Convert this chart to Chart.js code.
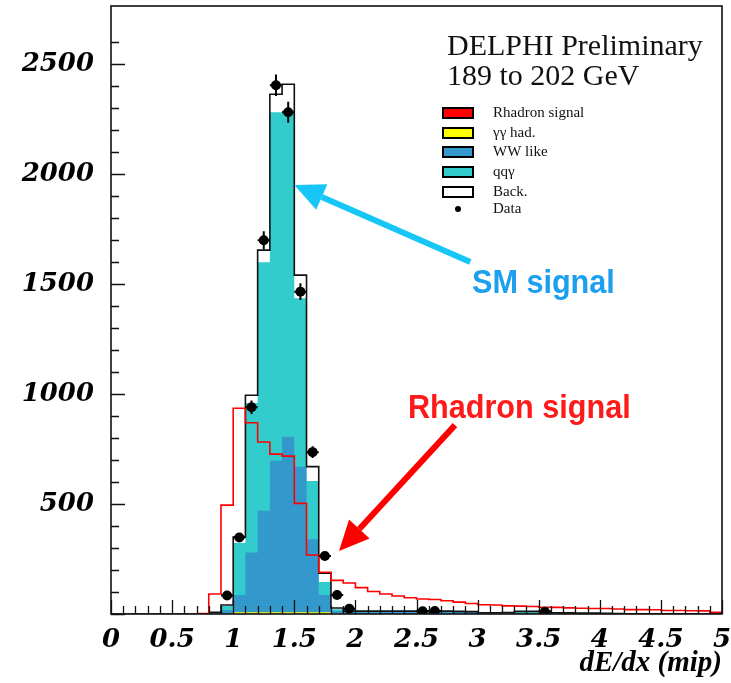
<!DOCTYPE html>
<html>
<head>
<meta charset="utf-8">
<title>DELPHI dE/dx</title>
<script src="https://cdn.jsdelivr.net/npm/chart.js"></script>
<style>
  html, body { margin: 0; padding: 0; background: #ffffff; }
  .chart-wrap { position: relative; width: 731px; height: 683px; }
</style>
</head>
<body>
<div class="chart-wrap"><canvas id="chart" width="731" height="683"></canvas></div>
<script>
// dE/dx bin edges (mip), 0.1 wide
const binEdges = [
  0.0, 0.1, 0.2, 0.3, 0.4, 0.5, 0.6, 0.7, 0.8, 0.9,
  1.0, 1.1, 1.2, 1.3, 1.4, 1.5, 1.6, 1.7, 1.8, 1.9,
  2.0, 2.1, 2.2, 2.3, 2.4, 2.5, 2.6, 2.7, 2.8, 2.9,
  3.0, 3.1, 3.2, 3.3, 3.4, 3.5, 3.6, 3.7, 3.8, 3.9,
  4.0, 4.1, 4.2, 4.3, 4.4, 4.5, 4.6, 4.7, 4.8, 4.9, 5.0
];

// background components, one value per bin (stacked in this order)
const ggHad = [
  0, 0, 0, 0, 0, 0, 0, 0, 0, 1,
  8, 8, 8, 8, 8, 8, 8, 8, 2, 0,
  0, 0, 0, 0, 0, 0, 0, 0, 0, 0,
  0, 0, 0, 0, 0, 0, 0, 0, 0, 0,
  0, 0, 0, 0, 0, 0, 0, 0, 0, 0
];
const wwLike = [
  0, 0, 0, 0, 0, 0, 0, 0, 2, 17,
  78, 272, 462, 689, 798, 662, 332, 78, 12, 10,
  10, 10, 10, 9, 9, 10, 10, 9, 9, 9,
  2, 2, 2, 3, 3, 3, 1, 1, 0, 0,
  0, 0, 0, 0, 0, 0, 0, 0, 0, 0
];
const qqGamma = [
  0, 0, 0, 0, 0, 0, 0, 0, 2, 18,
  237, 680, 1130, 1585, 1484, 766, 265, 59, 8, 0,
  0, 0, 0, 0, 0, 1, 1, 1, 0, 0,
  0, 0, 1, 7, 7, 7, 1, 1, 1, 1,
  1, 0, 0, 0, 0, 0, 0, 0, 0, 0
];
const otherBack = [
  0, 0, 0, 0, 0, 0, 0, 0, 4, 5,
  27, 35, 55, 82, 119, 105, 65, 41, 5, 3,
  3, 3, 3, 4, 4, 4, 4, 3, 3, 2,
  4, 4, 4, 2, 2, 3, 4, 3, 3, 3,
  2, 2, 1, 1, 1, 1, 1, 1, 0, 0
];

// R-hadron signal expectation, per bin
const rhadron = [
  0, 0, 0, 0, 0, 0, 0, 2, 91, 495,
  936, 870, 782, 727, 718, 503, 268, 190, 153, 141,
  120, 102, 91, 82, 74, 68, 66, 60, 54, 48,
  42, 41, 37, 36, 34, 31, 30, 28, 26, 25,
  25, 23, 20, 20, 19, 16, 16, 15, 14, 8
];

// data points (bin centres), counts and errors
const dataX = [0.95, 1.05, 1.15, 1.25, 1.35, 1.45, 1.55, 1.65, 1.75, 1.85, 1.95, 2.55, 2.65, 3.55];
const dataY = [84, 348, 940, 1700, 2405, 2282, 1466, 736, 264, 86, 24, 12, 14, 10];
const dataErr = [9, 19, 31, 41, 49, 48, 38, 27, 16, 9, 5, 3.5, 3.7, 3.2];

const yTickLabels = [500, 1000, 1500, 2000, 2500];
const xTickLabels = [0, 0.5, 1, 1.5, 2, 2.5, 3, 3.5, 4, 4.5, 5];

// histogram outline: two corners per bin
function histPoints(values, first = 0) {
  const pts = [];
  for (let i = first; i < values.length; i++) {
    pts.push({ x: binEdges[i], y: values[i] });
    pts.push({ x: binEdges[i + 1], y: values[i] });
  }
  return pts;
}

function addUp(a, b) { return a.map((v, i) => v + b[i]); }

const cumGG = ggHad;
const cumWW = addUp(cumGG, wwLike);
const cumQQ = addUp(cumWW, qqGamma);
const cumBack = addUp(cumQQ, otherBack);

const isOn = (v, list) => list.some(t => Math.abs(t - v) < 1e-6);

// frame, inward ticks, error bars, legend and annotations
const decorPlugin = {
  id: 'decor',
  afterDatasetsDraw(chart) {
    const { ctx, scales: { x, y } } = chart;
    ctx.save();
    ctx.strokeStyle = '#000';
    ctx.lineWidth = 2;
    dataX.forEach((vx, i) => {
      const px = x.getPixelForValue(vx);
      const py = y.getPixelForValue(dataY[i]);
      ctx.beginPath();
      ctx.moveTo(px, y.getPixelForValue(dataY[i] + dataErr[i]));
      ctx.lineTo(px, y.getPixelForValue(dataY[i] - dataErr[i]));
      ctx.moveTo(x.getPixelForValue(vx - 0.05), py);
      ctx.lineTo(x.getPixelForValue(vx + 0.05), py);
      ctx.stroke();
    });
    ctx.restore();
  },
  afterDraw(chart) {
    const { ctx, chartArea: a, scales: { x, y } } = chart;
    ctx.save();

    // frame
    ctx.strokeStyle = '#111';
    ctx.lineWidth = 1.6;
    ctx.strokeRect(a.left, a.top, a.right - a.left, a.bottom - a.top);

    // ticks pointing into the frame
    ctx.lineWidth = 1.3;
    ctx.beginPath();
    x.ticks.forEach(t => {
      const px = Math.round(x.getPixelForValue(t.value)) + 0.5;
      const len = isOn(t.value, xTickLabels) ? 14 : 8;
      ctx.moveTo(px, a.bottom);
      ctx.lineTo(px, a.bottom - len);
    });
    y.ticks.forEach(t => {
      if (Math.abs(t.value % 100) > 1e-6) return;
      const py = Math.round(y.getPixelForValue(t.value)) + 0.5;
      const len = t.value % 500 === 0 ? 14 : 8;
      ctx.moveTo(a.left, py);
      ctx.lineTo(a.left + len, py);
    });
    ctx.stroke();

    // header text
    const hx = a.left + 336;
    ctx.fillStyle = '#111';
    ctx.font = '30px "Liberation Serif"';
    ctx.textBaseline = 'alphabetic';
    ctx.fillText('DELPHI Preliminary', hx, a.top + 49);
    ctx.fillText('189 to 202 GeV', hx, a.top + 79);

    // legend
    const legend = [
      { label: 'Rhadron signal', fill: '#ff0000' },
      { label: 'γγ had.', fill: '#ffff00' },
      { label: 'WW like', fill: '#3399cc' },
      { label: 'qqγ', fill: '#33cccc' },
      { label: 'Back.', fill: '#ffffff' },
      { label: 'Data', dot: true }
    ];
    const rowY = [107, 127, 146, 166, 186, 203];
    const bx = a.left + 332;
    ctx.font = '15px "Liberation Serif"';
    ctx.textBaseline = 'middle';
    legend.forEach((e, i) => {
      const cy = a.top + rowY[i];
      if (e.dot) {
        ctx.beginPath();
        ctx.arc(bx + 15, cy, 3, 0, Math.PI * 2);
        ctx.fillStyle = '#000';
        ctx.fill();
      } else {
        ctx.fillStyle = e.fill;
        ctx.fillRect(bx, cy - 5, 30, 10);
        ctx.strokeStyle = '#000';
        ctx.lineWidth = 2;
        ctx.strokeRect(bx, cy - 5, 30, 10);
      }
      ctx.fillStyle = '#111';
      ctx.fillText(e.label, bx + 50, cy);
    });

    // annotations
    drawArrow(ctx, x.getPixelForValue(2.94), y.getPixelForValue(1601),
      x.getPixelForValue(1.50), y.getPixelForValue(1951), '#16c6f6');
    drawArrow(ctx, x.getPixelForValue(2.815), y.getPixelForValue(859),
      x.getPixelForValue(1.866), y.getPixelForValue(286), '#ff0000');

    ctx.font = 'bold 34px "Liberation Sans"';
    ctx.textBaseline = 'alphabetic';
    drawSquashed(ctx, 'SM signal', x.getPixelForValue(2.954), y.getPixelForValue(1460), '#1d9ff0');
    drawSquashed(ctx, 'Rhadron signal', x.getPixelForValue(2.43), y.getPixelForValue(891), '#ff1a1a');

    ctx.restore();
  }
};

function drawArrow(ctx, x0, y0, x1, y1, color) {
  const ang = Math.atan2(y1 - y0, x1 - x0);
  const headLen = 30, headW = 14;
  const bx = x1 - headLen * Math.cos(ang), by = y1 - headLen * Math.sin(ang);
  ctx.strokeStyle = color;
  ctx.fillStyle = color;
  ctx.lineWidth = 6;
  ctx.beginPath();
  ctx.moveTo(x0, y0);
  ctx.lineTo(bx, by);
  ctx.stroke();
  ctx.beginPath();
  ctx.moveTo(x1, y1);
  ctx.lineTo(bx + headW * Math.sin(ang), by - headW * Math.cos(ang));
  ctx.lineTo(bx - headW * Math.sin(ang), by + headW * Math.cos(ang));
  ctx.closePath();
  ctx.fill();
}

function drawSquashed(ctx, text, px, py, color) {
  ctx.save();
  ctx.translate(px, py);
  ctx.scale(0.9, 1);
  ctx.fillStyle = color;
  ctx.fillText(text, 0, 0);
  ctx.restore();
}

function fillSet(label, values, color, order) {
  return {
    label,
    data: histPoints(values),
    order,
    fill: 'origin',
    backgroundColor: color,
    borderColor: 'rgba(0,0,0,0)',
    borderWidth: 0,
    pointRadius: 0
  };
}

// drop the label overhang padding so the frame sits where the layout says
function noOverhang(s) {
  s.paddingLeft = 0;
  s.paddingRight = 0;
  s.paddingTop = 0;
  s.paddingBottom = 0;
}

const tickFont = { family: 'DejaVu Serif', size: 26, style: 'italic', weight: 'bold' };

new Chart(document.getElementById('chart'), {
  type: 'line',
  data: {
    datasets: [
      {
        label: 'Data',
        data: dataX.map((vx, i) => ({ x: vx, y: dataY[i] })),
        order: 0,
        showLine: false,
        pointRadius: 5,
        pointBackgroundColor: '#000',
        pointBorderWidth: 0
      },
      {
        label: 'Rhadron signal',
        data: histPoints(rhadron, 7),
        order: 1,
        fill: false,
        borderColor: '#ff0000',
        borderWidth: 1.6,
        pointRadius: 0
      },
      {
        label: 'Back. outline',
        data: histPoints(cumBack),
        order: 2,
        fill: false,
        borderColor: '#111',
        borderWidth: 1.6,
        pointRadius: 0
      },
      fillSet('γγ had.', cumGG, '#ffff00', 3),
      fillSet('WW like', cumWW, '#3399cc', 4),
      fillSet('qqγ', cumQQ, '#33cccc', 5),
      fillSet('Back.', cumBack, '#ffffff', 6)
    ]
  },
  options: {
    responsive: false,
    animation: false,
    layout: { padding: { top: 6, right: 9, left: 0, bottom: 0 } },
    plugins: {
      legend: { display: false },
      tooltip: { enabled: false }
    },
    scales: {
      x: {
        type: 'linear',
        min: 0,
        max: 5,
        grid: { display: false },
        border: { display: false },
        ticks: {
          stepSize: 0.1,
          autoSkip: false,
          maxRotation: 0,
          padding: 3,
          color: '#000',
          font: tickFont,
          callback: v => isOn(v, xTickLabels) ? String(Math.round(v * 10) / 10) : ''
        },
        title: {
          display: true,
          text: 'dE/dx (mip)',
          align: 'end',
          color: '#000',
          padding: { top: 0, bottom: 2 },
          font: { family: 'Liberation Serif', size: 29, style: 'italic', weight: 'bold' }
        },
        afterFit: s => { s.height = 69; noOverhang(s); }
      },
      y: {
        min: 0,
        max: 2765,
        grid: { display: false },
        border: { display: false },
        ticks: {
          stepSize: 100,
          autoSkip: false,
          padding: 9,
          color: '#000',
          font: tickFont,
          callback: v => yTickLabels.includes(v) ? String(v) : ''
        },
        afterFit: s => { s.width = 111; noOverhang(s); }
      }
    }
  },
  plugins: [decorPlugin]
});
</script>
</body>
</html>
